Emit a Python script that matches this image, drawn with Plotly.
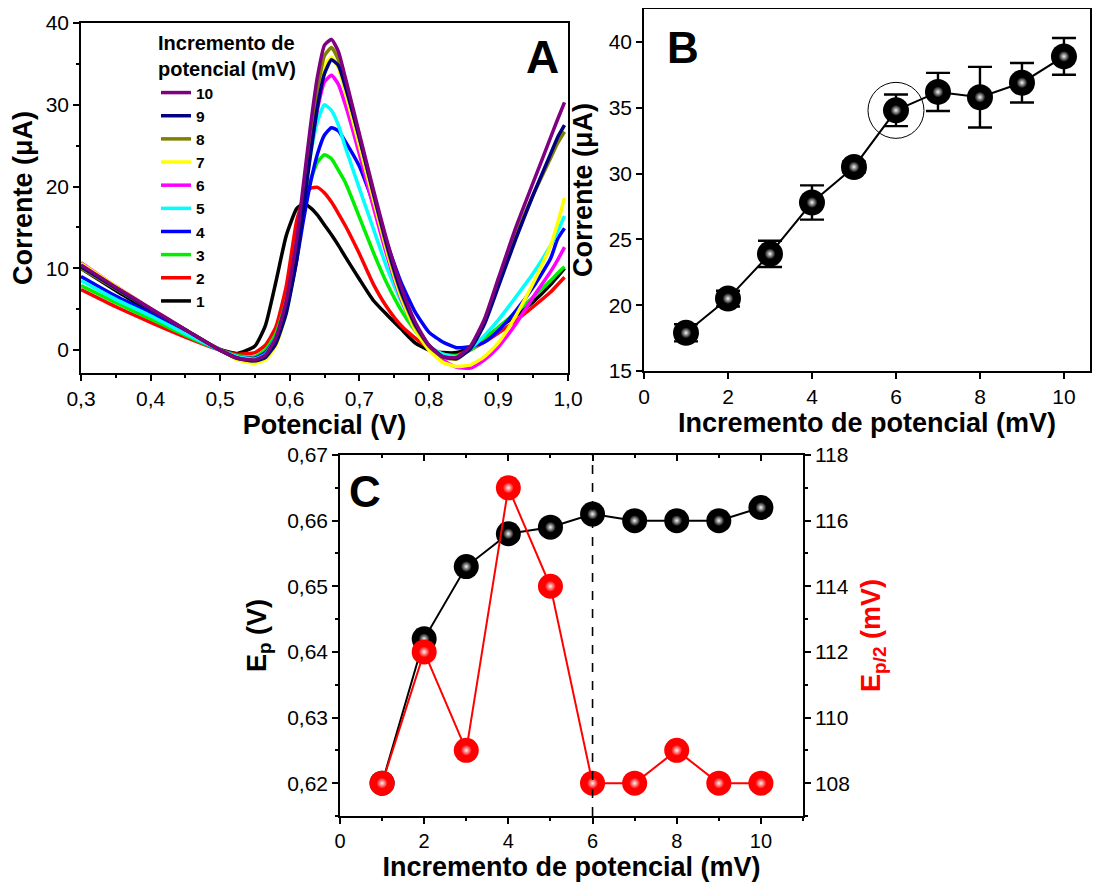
import plotly.graph_objects as go

# ---------------- data ----------------
# Panel A: potential grid (V) and currents (uA) for each increment (mV)
POT = [0.30, 0.35, 0.40, 0.45, 0.50, 0.525, 0.55, 0.565, 0.58, 0.595, 0.61, 0.62, 0.63,
       0.64, 0.65, 0.66, 0.67, 0.68, 0.70, 0.72, 0.74, 0.76, 0.78, 0.80, 0.82, 0.84,
       0.86, 0.88, 0.90, 0.925, 0.95, 0.975, 0.985, 0.995]
I1 = [10.0, 7.3, 4.6, 2.2, 0.1, -0.4, 0.5, 3.0, 8.3, 14.0, 17.3, 17.9, 17.4, 16.5, 15.3, 14.1, 12.8,
      11.4, 8.7, 6.1, 4.3, 2.6, 0.9, 0.0, -0.3, -0.3, 0.4, 1.5, 2.7, 4.2, 5.9, 8.0, 9.0, 10.0]
I2 = [7.4, 5.3, 3.4, 1.6, 0.0, -0.5, -0.3, 0.6, 2.8, 7.8, 15.8, 18.6, 19.8, 19.9, 19.2, 18.1, 16.7,
      15.2, 11.8, 8.1, 5.2, 3.0, 1.5, 0.3, -0.5, -0.6, 0.1, 1.0, 2.1, 3.6, 5.3, 7.1, 8.0, 8.9]
I3 = [7.9, 5.8, 3.8, 1.8, 0.0, -0.7, -0.8, 0.0, 2.0, 6.0, 12.5, 17.0, 20.8, 23.0, 23.9, 23.4, 22.0,
      20.5, 16.3, 12.0, 8.1, 4.9, 2.4, 0.4, -0.5, -0.7, 0.0, 1.3, 2.8, 4.6, 6.5, 8.5, 9.4, 10.2]
I4 = [9.0, 6.6, 4.5, 2.1, 0.0, -0.8, -1.0, -0.3, 1.5, 5.0, 11.0, 16.0, 20.5, 24.0, 26.3, 27.2, 26.8,
      25.5, 22.5, 18.0, 13.0, 8.3, 4.7, 2.2, 1.0, 0.3, 0.4, 1.0, 2.4, 4.8, 7.7, 11.2, 13.6, 14.9]
I5 = [8.5, 6.2, 4.2, 2.0, 0.0, -0.8, -1.1, -0.5, 1.5, 5.5, 12.5, 18.5, 24.0, 28.0, 30.0, 29.3, 27.5,
      24.8, 19.8, 14.9, 10.0, 6.0, 2.7, 0.5, -0.5, -0.8, 0.2, 1.8, 3.7, 6.5, 9.4, 12.8, 14.5, 16.4]
I6 = [10.7, 7.8, 5.1, 2.5, 0.0, -1.0, -1.3, -0.8, 1.0, 5.0, 12.0, 18.5, 24.5, 29.5, 32.8, 33.6, 32.5,
      30.0, 24.0, 17.6, 11.5, 6.3, 2.6, 0.3, -1.2, -2.1, -2.2, -1.2, 0.4, 3.2, 6.5, 9.6, 11.0, 12.6]
I7 = [10.6, 7.8, 5.1, 2.5, 0.0, -1.2, -1.6, -1.2, 0.5, 4.5, 11.5, 18.5, 25.5, 31.0, 34.8, 35.8, 34.5,
      31.5, 25.0, 18.5, 12.0, 6.5, 2.5, 0.0, -1.5, -2.0, -1.8, -0.8, 0.9, 4.2, 8.2, 12.8, 15.5, 18.6]
I8 = [10.0, 7.5, 5.0, 2.5, 0.0, -1.0, -1.3, -0.8, 1.0, 5.0, 12.0, 19.0, 26.0, 32.0, 36.0, 37.0, 35.5,
      32.5, 26.0, 19.2, 12.5, 7.0, 3.0, 0.5, -0.9, -1.1, 0.3, 3.5, 8.2, 14.0, 19.0, 23.5, 25.3, 26.7]
I9 = [10.2, 7.6, 5.0, 2.5, 0.0, -1.0, -1.3, -0.9, 0.8, 4.5, 11.0, 17.5, 24.0, 29.8, 33.8, 35.5, 34.8,
      32.2, 26.0, 19.3, 12.8, 7.2, 3.2, 0.6, -0.8, -1.0, 0.2, 3.2, 7.8, 13.6, 19.0, 24.0, 26.0, 27.5]
I10 = [10.4, 7.7, 5.1, 2.5, 0.0, -1.0, -1.2, -0.6, 1.5, 6.0, 13.5, 20.5, 27.5, 33.5, 37.3, 38.0, 36.5,
       33.3, 26.5, 19.7, 13.3, 7.8, 3.5, 0.6, -0.8, -0.9, 0.5, 3.8, 8.8, 15.0, 20.5, 26.0, 28.2, 30.3]
CURVES = [I1, I2, I3, I4, I5, I6, I7, I8, I9, I10]
CURVE_NAMES = ["1", "2", "3", "4", "5", "6", "7", "8", "9", "10"]
CURVE_COLORS = ["#000000", "#ff0000", "#00ee00", "#0000ff", "#00ffff",
                "#ff00ff", "#ffff00", "#808000", "#000080", "#800080"]

# Panel B: peak current vs potential increment
INC = [1, 2, 3, 4, 5, 6, 7, 8, 9, 10]
B_I = [17.9, 20.5, 23.9, 27.8, 30.5, 34.8, 36.2, 35.8, 36.9, 38.9]
B_ERR = [0.65, 0.6, 1.0, 1.3, 0.4, 1.2, 1.45, 2.3, 1.5, 1.4]
OPT_IDX = 5  # highlighted (circled) increment: 6 mV

# Panel C: peak potential (V) and half-peak width (mV)
EP = [0.620, 0.642, 0.653, 0.658, 0.659, 0.661, 0.660, 0.660, 0.660, 0.662]
EP2 = [108, 112, 109, 117, 114, 108, 108, 109, 108, 108]

FONT = "Arial, Liberation Sans, sans-serif"
W, H = 1092, 874  # page body keeps an 8 px margin at top/left


def px(x):
    return x / W


def py(y):
    return 1 - y / H


fig = go.Figure()

# ---------- Panel A ----------
for ys, nm, col in zip(CURVES, CURVE_NAMES, CURVE_COLORS):
    fig.add_trace(go.Scatter(x=POT, y=ys, mode="lines", name=nm,
                             line=dict(color=col, width=3.5, shape="spline", smoothing=0.5),
                             xaxis="x", yaxis="y", hoverinfo="skip"))

# ---------- Panel B ----------
fig.add_trace(go.Scatter(x=INC, y=B_I, mode="lines+markers", showlegend=False,
                         line=dict(color="black", width=2),
                         marker=dict(size=26, color="black"),
                         error_y=dict(type="data", array=B_ERR, color="black", thickness=2.4, width=12),
                         xaxis="x2", yaxis="y2"))
fig.add_trace(go.Scatter(x=INC, y=B_I, mode="markers", showlegend=False,
                         marker=dict(size=11, color="black",
                                     gradient=dict(type="radial", color="#f4f4f4")),
                         xaxis="x2", yaxis="y2", hoverinfo="skip"))
fig.add_trace(go.Scatter(x=[INC[OPT_IDX]], y=[B_I[OPT_IDX]], mode="markers", showlegend=False,
                         marker=dict(symbol="circle-open", size=56, color="black",
                                     line=dict(width=1, color="black")),
                         xaxis="x2", yaxis="y2", hoverinfo="skip"))

# ---------- Panel C ----------
fig.add_trace(go.Scatter(x=INC, y=EP, mode="lines+markers", showlegend=False,
                         line=dict(color="black", width=2),
                         marker=dict(size=25, color="black"),
                         xaxis="x3", yaxis="y3"))
fig.add_trace(go.Scatter(x=INC, y=EP, mode="markers", showlegend=False,
                         marker=dict(size=11, color="black",
                                     gradient=dict(type="radial", color="#f4f4f4")),
                         xaxis="x3", yaxis="y3", hoverinfo="skip"))
fig.add_trace(go.Scatter(x=INC, y=EP2, mode="lines+markers", showlegend=False,
                         line=dict(color="#ff0000", width=2),
                         marker=dict(size=25, color="#ff0000"),
                         xaxis="x3", yaxis="y4"))
fig.add_trace(go.Scatter(x=INC, y=EP2, mode="markers", showlegend=False,
                         marker=dict(size=11, color="#ff0000",
                                     gradient=dict(type="radial", color="#fff0f0")),
                         xaxis="x3", yaxis="y4", hoverinfo="skip"))
# invisible trace that carries the top (inward-tick) axis of panel C
fig.add_trace(go.Scatter(x=INC, y=EP, mode="markers", showlegend=False,
                         marker=dict(size=1, opacity=0), xaxis="x4", yaxis="y3", hoverinfo="skip"))

fig.add_shape(type="line", xref="x3", yref="y3 domain", x0=INC[OPT_IDX], x1=INC[OPT_IDX],
              y0=0, y1=1, line=dict(color="black", width=1.6, dash="dash"))

TICKF = dict(family=FONT, size=21, color="black")
TITLEF = dict(family=FONT, size=27, color="black", weight="bold")


def ax(**kw):
    base = dict(showgrid=False, zeroline=False, showline=True, linecolor="black", linewidth=1.5,
                ticks="outside", ticklen=6, tickwidth=1.5, tickcolor="black", tickfont=TICKF,
                automargin=False)
    base.update(kw)
    return base


C_X = [px(332), px(795)]

fig.update_layout(
    width=W, height=H, autosize=False,
    margin=dict(l=0, r=0, t=0, b=0),
    paper_bgcolor="white", plot_bgcolor="white",
    separators=",.",
    font=dict(family=FONT, color="black"),
    xaxis=ax(domain=[px(73), px(560)], anchor="y", range=[0.3, 1.0], tick0=0.3, dtick=0.1,
             tickformat=".1f", mirror=True,
             minor=dict(ticks="outside", ticklen=3, dtick=0.05, tickcolor="black"),
             title=dict(text="Potencial (V)", font=TITLEF, standoff=0)),
    yaxis=ax(domain=[py(365), py(15)], anchor="x", range=[-2.8, 40], tick0=0, dtick=10, mirror=True,
             minor=dict(ticks="outside", ticklen=3, dtick=5, tickcolor="black"),
             title=dict(text="Corrente (μA)", font=TITLEF, standoff=7)),
    xaxis2=ax(domain=[px(636), px(1082)], anchor="y2", range=[0, 10.62], tick0=0, dtick=2, mirror=True,
              title=dict(text="Incremento de potencial (mV)", font=TITLEF, standoff=4)),
    yaxis2=ax(domain=[py(363), py(1)], anchor="x2", range=[15, 42.5], tick0=15, dtick=5, mirror=True,
              title=dict(text="Corrente (μA)", font=TITLEF, standoff=8)),
    xaxis3=ax(domain=C_X, anchor="y3", range=[0, 11], tick0=0, dtick=2,
              tickfont=dict(family=FONT, size=20, color="black"),
              minor=dict(ticks="outside", ticklen=3, dtick=1, tickcolor="black"),
              title=dict(text="Incremento de potencial (mV)", font=TITLEF, standoff=7)),
    xaxis4=ax(domain=C_X, anchor="y3", overlaying="x3", side="top", range=[0, 11], tick0=0, dtick=2,
              ticks="inside", showticklabels=False,
              minor=dict(ticks="inside", ticklen=3, dtick=1, tickcolor="black")),
    yaxis3=ax(domain=[py(808), py(447)], anchor="x3", range=[0.615, 0.67], tick0=0.62, dtick=0.01,
              tickformat=".2f",
              minor=dict(ticks="outside", ticklen=3, dtick=0.005, tickcolor="black"),
              title=dict(text="E<sub>p</sub> (V)", font=TITLEF, standoff=13)),
    yaxis4=ax(overlaying="y3", side="right", anchor="x3", range=[107, 118], tick0=108, dtick=2,
              minor=dict(ticks="outside", ticklen=3, dtick=1, tickcolor="black"),
              title=dict(text="E<sub>p/2</sub> (mV)",
                         font=dict(family=FONT, size=27, color="#ff0000", weight="bold"),
                         standoff=12)),
    legend=dict(x=px(148), y=py(16), xanchor="left", yanchor="top", traceorder="reversed",
                bgcolor="rgba(0,0,0,0)", borderwidth=0,
                font=dict(family=FONT, size=15.5, color="black", weight="bold"),
                title=dict(text="Incremento de<br>potencial (mV)",
                           font=dict(family=FONT, size=20, color="black", weight="bold")),
                tracegroupgap=0),
    annotations=[
        dict(text="A", x=px(534), y=py(49), xref="paper", yref="paper", showarrow=False,
             xanchor="center", yanchor="middle",
             font=dict(family=FONT, size=46, color="black", weight="bold")),
        dict(text="B", x=px(675), y=py(39), xref="paper", yref="paper", showarrow=False,
             xanchor="center", yanchor="middle",
             font=dict(family=FONT, size=44, color="black", weight="bold")),
        dict(text="C", x=px(357), y=py(483), xref="paper", yref="paper", showarrow=False,
             xanchor="center", yanchor="middle",
             font=dict(family=FONT, size=44, color="black", weight="bold")),
    ],
)

fig.write_html("out.html")
